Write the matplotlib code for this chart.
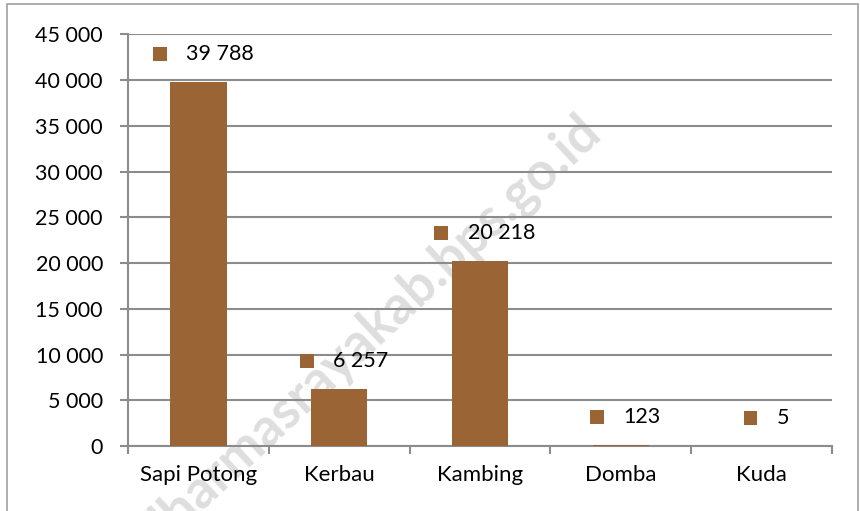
import matplotlib
matplotlib.use("Agg")
import matplotlib.pyplot as plt
from matplotlib.offsetbox import AnnotationBbox, DrawingArea, HPacker, TextArea
from matplotlib.patches import Rectangle

# data
categories = ["Sapi Potong", "Kerbau", "Kambing", "Domba", "Kuda"]
values = [39788, 6257, 20218, 123, 5]
value_labels = ["39 788", "6 257", "20 218", "123", "5"]
y_ticks = [0, 5000, 10000, 15000, 20000, 25000, 30000, 35000, 40000, 45000]
y_tick_labels = ["0", "5 000", "10 000", "15 000", "20 000", "25 000",
                 "30 000", "35 000", "40 000", "45 000"]

bar_color = "#9a6434"
grid_color = "#8c8c8c"
fs = 15.5
plt.rcParams["font.family"] = ["Lato", "DejaVu Sans"]

fig = plt.figure(figsize=(8.6, 5.11), dpi=100)
ax = fig.add_axes([0.1488, 0.1272, 0.8186, 0.8053])
ax.patch.set_alpha(0)

x = list(range(len(categories)))
ax.bar(x, values, width=0.4, color=bar_color, zorder=3)

ax.set_xlim(-0.5, len(categories) - 0.5)
ax.set_ylim(0, 45000)
ax.set_yticks(y_ticks)
ax.set_yticklabels(y_tick_labels, fontsize=fs)
ax.yaxis.grid(True, color=grid_color, linewidth=1.5, zorder=1)

# x ticks sit between categories, labels centered under bars
ax.set_xticks([i - 0.5 for i in range(len(categories) + 1)])
ax.set_xticklabels([])
ax.set_xticks(x, minor=True)
ax.set_xticklabels(categories, minor=True, fontsize=16)
ax.tick_params(axis="x", which="minor", length=0, pad=14)
ax.tick_params(axis="x", which="major", length=6, width=1.5, color=grid_color)
ax.tick_params(axis="y", length=6, width=1.5, color=grid_color, pad=12)

for side in ["top", "right"]:
    ax.spines[side].set_visible(False)
for side in ["left", "bottom"]:
    ax.spines[side].set_color(grid_color)
    ax.spines[side].set_linewidth(1.5)

# data labels with legend key
for xi, v, lab in zip(x, values, value_labels):
    da = DrawingArea(10, 10, 0, 0)
    da.add_artist(Rectangle((0, 0), 10, 10, facecolor=bar_color, edgecolor="none"))
    ta = TextArea(lab, textprops=dict(fontsize=fs, color="black"))
    box = HPacker(children=[da, ta], align="center", pad=0, sep=14)
    ab = AnnotationBbox(box, (xi, v), xybox=(3.5, 20), xycoords="data",
                        boxcoords="offset points", frameon=False, zorder=4)
    ax.add_artist(ab)

# watermark (runs off the bottom edge as in the source image)
fig.text(0.43, 0.35, "dharmasrayakab.bps.go.id", rotation=43, fontsize=38,
         fontweight="bold", color="#dedede", ha="center", va="center",
         zorder=-1)

# outer border
fig.patches.append(Rectangle((0.008, -0.01), 0.99, 1.002, transform=fig.transFigure,
                             fill=False, edgecolor="#a0a0a0", linewidth=1.2))

fig.savefig("out.png", dpi=100)
